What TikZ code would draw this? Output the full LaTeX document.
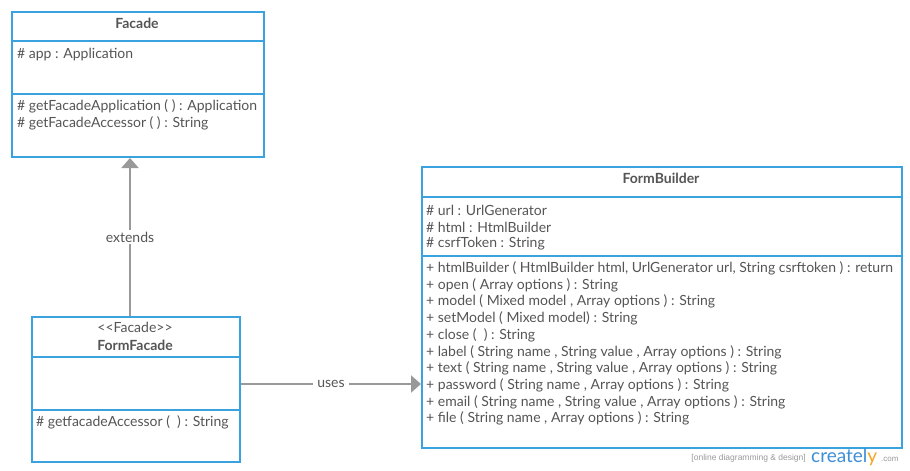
\documentclass[tikz,border=0pt]{standalone}
\usepackage{fontspec}
\setmainfont{Lato}
\usetikzlibrary{arrows.meta}
\definecolor{umlblue}{HTML}{3AA3DF}
\definecolor{txt}{HTML}{555555}
\definecolor{conn}{HTML}{999999}
\definecolor{crblue}{HTML}{3D8FD6}
\definecolor{crorange}{HTML}{F5A623}
\begin{document}
\begin{tikzpicture}[x=1pt,y=-1pt,
  umlbox/.style={draw=umlblue,line width=2pt,anchor=north west,inner sep=0pt,fill=white},
  divider/.style={draw=umlblue,line width=2pt},
  title/.style={text=txt,font=\fontsize{14}{16}\selectfont\bfseries,inner sep=0pt},
  member/.style={text=txt,font=\fontsize{14}{16}\selectfont,anchor=west,inner sep=0pt},
  conline/.style={draw=conn,line width=2pt},
  tri/.style={-{Triangle[width=17pt,length=10pt]}},
  lbl/.style={fill=white,text=txt,font=\fontsize{14}{16}\selectfont,inner xsep=4pt,inner ysep=2pt}
]
\useasboundingbox (0,0) rectangle (910,471);
\fill[white] (0,0) rectangle (910,471);

% Facade
\node[umlbox,minimum width=252pt,minimum height=145pt] (facade) at (11,11) {};
\draw[divider] (11,41) -- (263,41);
\draw[divider] (11,94) -- (263,94);
\node[title] (facadeT) at (137,23) {Facade};
\node[member] (facadeA1) at (17,54.5) {\# app : Application};
\node[member] (facadeM1) at (17,106.5) {\# getFacadeApplication ( ) : Application};
\node[member] (facadeM2) at (17,123.5) {\# getFacadeAccessor ( ) : String};

% FormFacade
\node[umlbox,minimum width=208pt,minimum height=145pt] (formfacade) at (31,316) {};
\draw[divider] (31,357) -- (239,357);
\draw[divider] (31,410) -- (239,410);
\node[text=txt,font=\fontsize{14}{16}\selectfont,inner sep=0pt] (ffS) at (135,327.5) {<{}<Facade>{}>};
\node[title] (ffT) at (135,345) {FormFacade};
\node[member] (ffM1) at (36,422.5) {\# getfacadeAccessor (\ \ ) : String};

% FormBuilder
\node[umlbox,minimum width=480pt,minimum height=281pt] (formbuilder) at (421,166) {};
\draw[divider] (421,197) -- (901,197);
\draw[divider] (421,256) -- (901,256);
\node[title] (fbT) at (661,178.5) {FormBuilder};
\node[member] at (426,210) {\# url : UrlGenerator};
\node[member] at (426,227) {\# html : HtmlBuilder};
\node[member] at (426,243.5) {\# csrfToken : String};
\node[member] at (426,268.5) {+ htmlBuilder ( HtmlBuilder html, UrlGenerator url, String csrftoken ) : return};
\node[member] at (426,285) {+ open ( Array options ) : String};
\node[member] at (426,301.5) {+ model ( Mixed model , Array options ) : String};
\node[member] at (426,318.5) {+ setModel ( Mixed model) : String};
\node[member] at (426,335) {+ close (\ \ ) : String};
\node[member] at (426,352) {+ label ( String name , String value , Array options ) : String};
\node[member] at (426,368.5) {+ text ( String name , String value , Array options ) : String};
\node[member] at (426,385.5) {+ password ( String name , Array options ) : String};
\node[member] at (426,402) {+ email ( String name , String value , Array options ) : String};
\node[member] at (426,418.5) {+ file ( String name , Array options ) : String};

% connectors
\draw[conline,tri] (formfacade.north -| 130,0) -- node[lbl] {extends} (facade.south -| 130,0);
\draw[conline,tri] (formfacade.east |- 0,384) -- node[lbl,pos=0.5] {uses} (formbuilder.west |- 0,384);

% watermark
\node[anchor=base east,inner sep=0pt,text=conn,font=\fontspec{Liberation Sans}\fontsize{8.5}{10}\selectfont] (wm1) at (806,460) {[online diagramming \& design]};
\node[anchor=base west,inner sep=0pt,text=crblue,font=\fontspec{Lato}\fontsize{19}{22}\selectfont] (wm2) at (811,462) {createl\textcolor{crorange}{y}};
\node[anchor=base west,inner sep=0pt,text=conn,font=\fontspec{Liberation Sans}\fontsize{8}{10}\selectfont] (wm3) at (881,461) {.com};
\end{tikzpicture}
\end{document}
